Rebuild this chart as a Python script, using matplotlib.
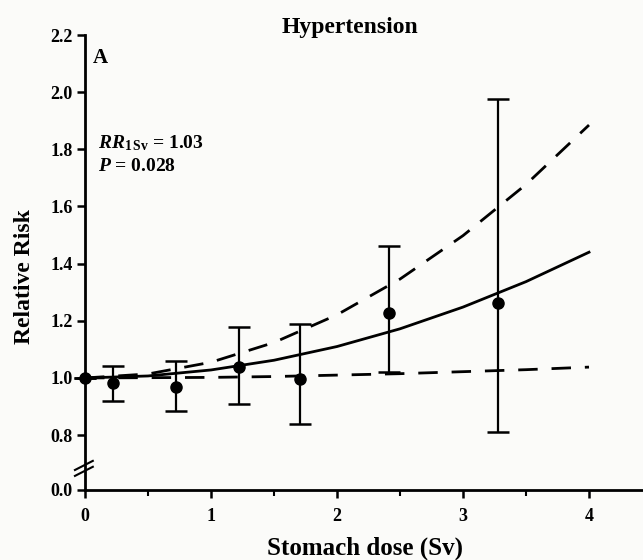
import matplotlib
matplotlib.use('Agg')
import matplotlib.pyplot as plt
from matplotlib.ticker import MultipleLocator

plt.rcParams['font.family'] = ['Liberation Serif', 'DejaVu Serif']
plt.rcParams['font.weight'] = 'bold'
plt.rcParams['mathtext.fontset'] = 'custom'
plt.rcParams['mathtext.rm'] = 'Liberation Serif:bold'
plt.rcParams['mathtext.it'] = 'Liberation Serif:italic:bold'

# grouped points: dose, relative risk, CI
dose = [0.0, 0.22, 0.72, 1.22, 1.71, 2.41, 3.28]
rr = [1.0, 0.983, 0.97, 1.038, 0.995, 1.227, 1.262]
ci_lo = [1.0, 0.92, 0.885, 0.91, 0.84, 1.02, 0.81]
ci_hi = [1.0, 1.042, 1.06, 1.18, 1.19, 1.46, 1.975]

# fitted curve and its bounds
dose_fit = [0.0, 0.5, 1.0, 1.5, 2.0, 2.5, 3.0, 3.5, 4.0]
rr_fit = [1.0, 1.007, 1.028, 1.062, 1.11, 1.172, 1.248, 1.337, 1.44]
rr_upper = [1.0, 1.014, 1.055, 1.124, 1.221, 1.346, 1.498, 1.677, 1.885]
rr_lower = [1.0, 1.001, 1.002, 1.005, 1.01, 1.015, 1.022, 1.029, 1.038]

yticks = [0.8, 1.0, 1.2, 1.4, 1.6, 1.8, 2.0, 2.2]
y_zero_pos = 0.608  # where the "0.0" label sits after the axis break

fig = plt.figure(figsize=(6.43, 5.6), dpi=100)
fig.patch.set_facecolor('#fbfbf9')
ax = fig.add_axes([85/643, 1-490/560, 1-85/643, 455/560])
ax.set_facecolor('none')

ax.plot(dose_fit, rr_fit, color='black', lw=2)
ax.plot(dose_fit, rr_upper, color='black', lw=2, dashes=(7, 5))
ax.plot(dose_fit, rr_lower, color='black', lw=2, dashes=(7, 5))

err = [[r - l for r, l in zip(rr, ci_lo)], [h - r for r, h in zip(rr, ci_hi)]]
ax.errorbar(dose, rr, yerr=err, fmt='o', color='black', ms=8, elinewidth=1.6,
            capsize=8, capthick=1.8, clip_on=False, zorder=5)

ax.set_xlim(0, (643-85)/126)
ax.set_ylim(y_zero_pos, 2.2)
ax.set_xticks([0, 1, 2, 3, 4])
ax.xaxis.set_minor_locator(MultipleLocator(0.5))
ax.set_yticks([y_zero_pos] + yticks)
ax.set_yticklabels(['0.0'] + ['%.1f' % v for v in yticks])

for s in ['top', 'right']:
    ax.spines[s].set_visible(False)
for s in ['left', 'bottom']:
    ax.spines[s].set_linewidth(2)
ax.tick_params(axis='both', which='major', length=6, width=1.8, labelsize=13, pad=3)
ax.tick_params(axis='x', which='minor', length=4, width=1.5)
ax.tick_params(axis='x', pad=7)

# axis break marks
for dy in (0.0, -0.013):
    ax.plot([-0.018, 0.014], [0.044 + dy, 0.064 + dy], transform=ax.transAxes,
            color='black', lw=1.5, clip_on=False)

ax.set_xlabel('Stomach dose (Sv)', fontsize=18, fontweight='bold')
ax.set_ylabel('Relative Risk', fontsize=17, fontweight='bold')
ax.xaxis.set_label_coords(0.502, -0.103)
ax.yaxis.set_label_coords(-0.09, 0.47)

fig.text(350/643, 1-28/560, 'Hypertension', fontsize=17, fontweight='bold',
         ha='center', va='center')
ax.text(0.06, 2.12, 'A', fontsize=15, fontweight='bold', va='center')
ax.text(0.1, 1.82, r'$\mathit{RR}_{\mathrm{1\,Sv}}$ = 1.03', fontsize=14,
        fontweight='bold', va='center')
ax.text(0.1, 1.74, r'$\mathit{P}$ = 0.028', fontsize=14, fontweight='bold',
        va='center')

fig.savefig('out.png', dpi=100)
